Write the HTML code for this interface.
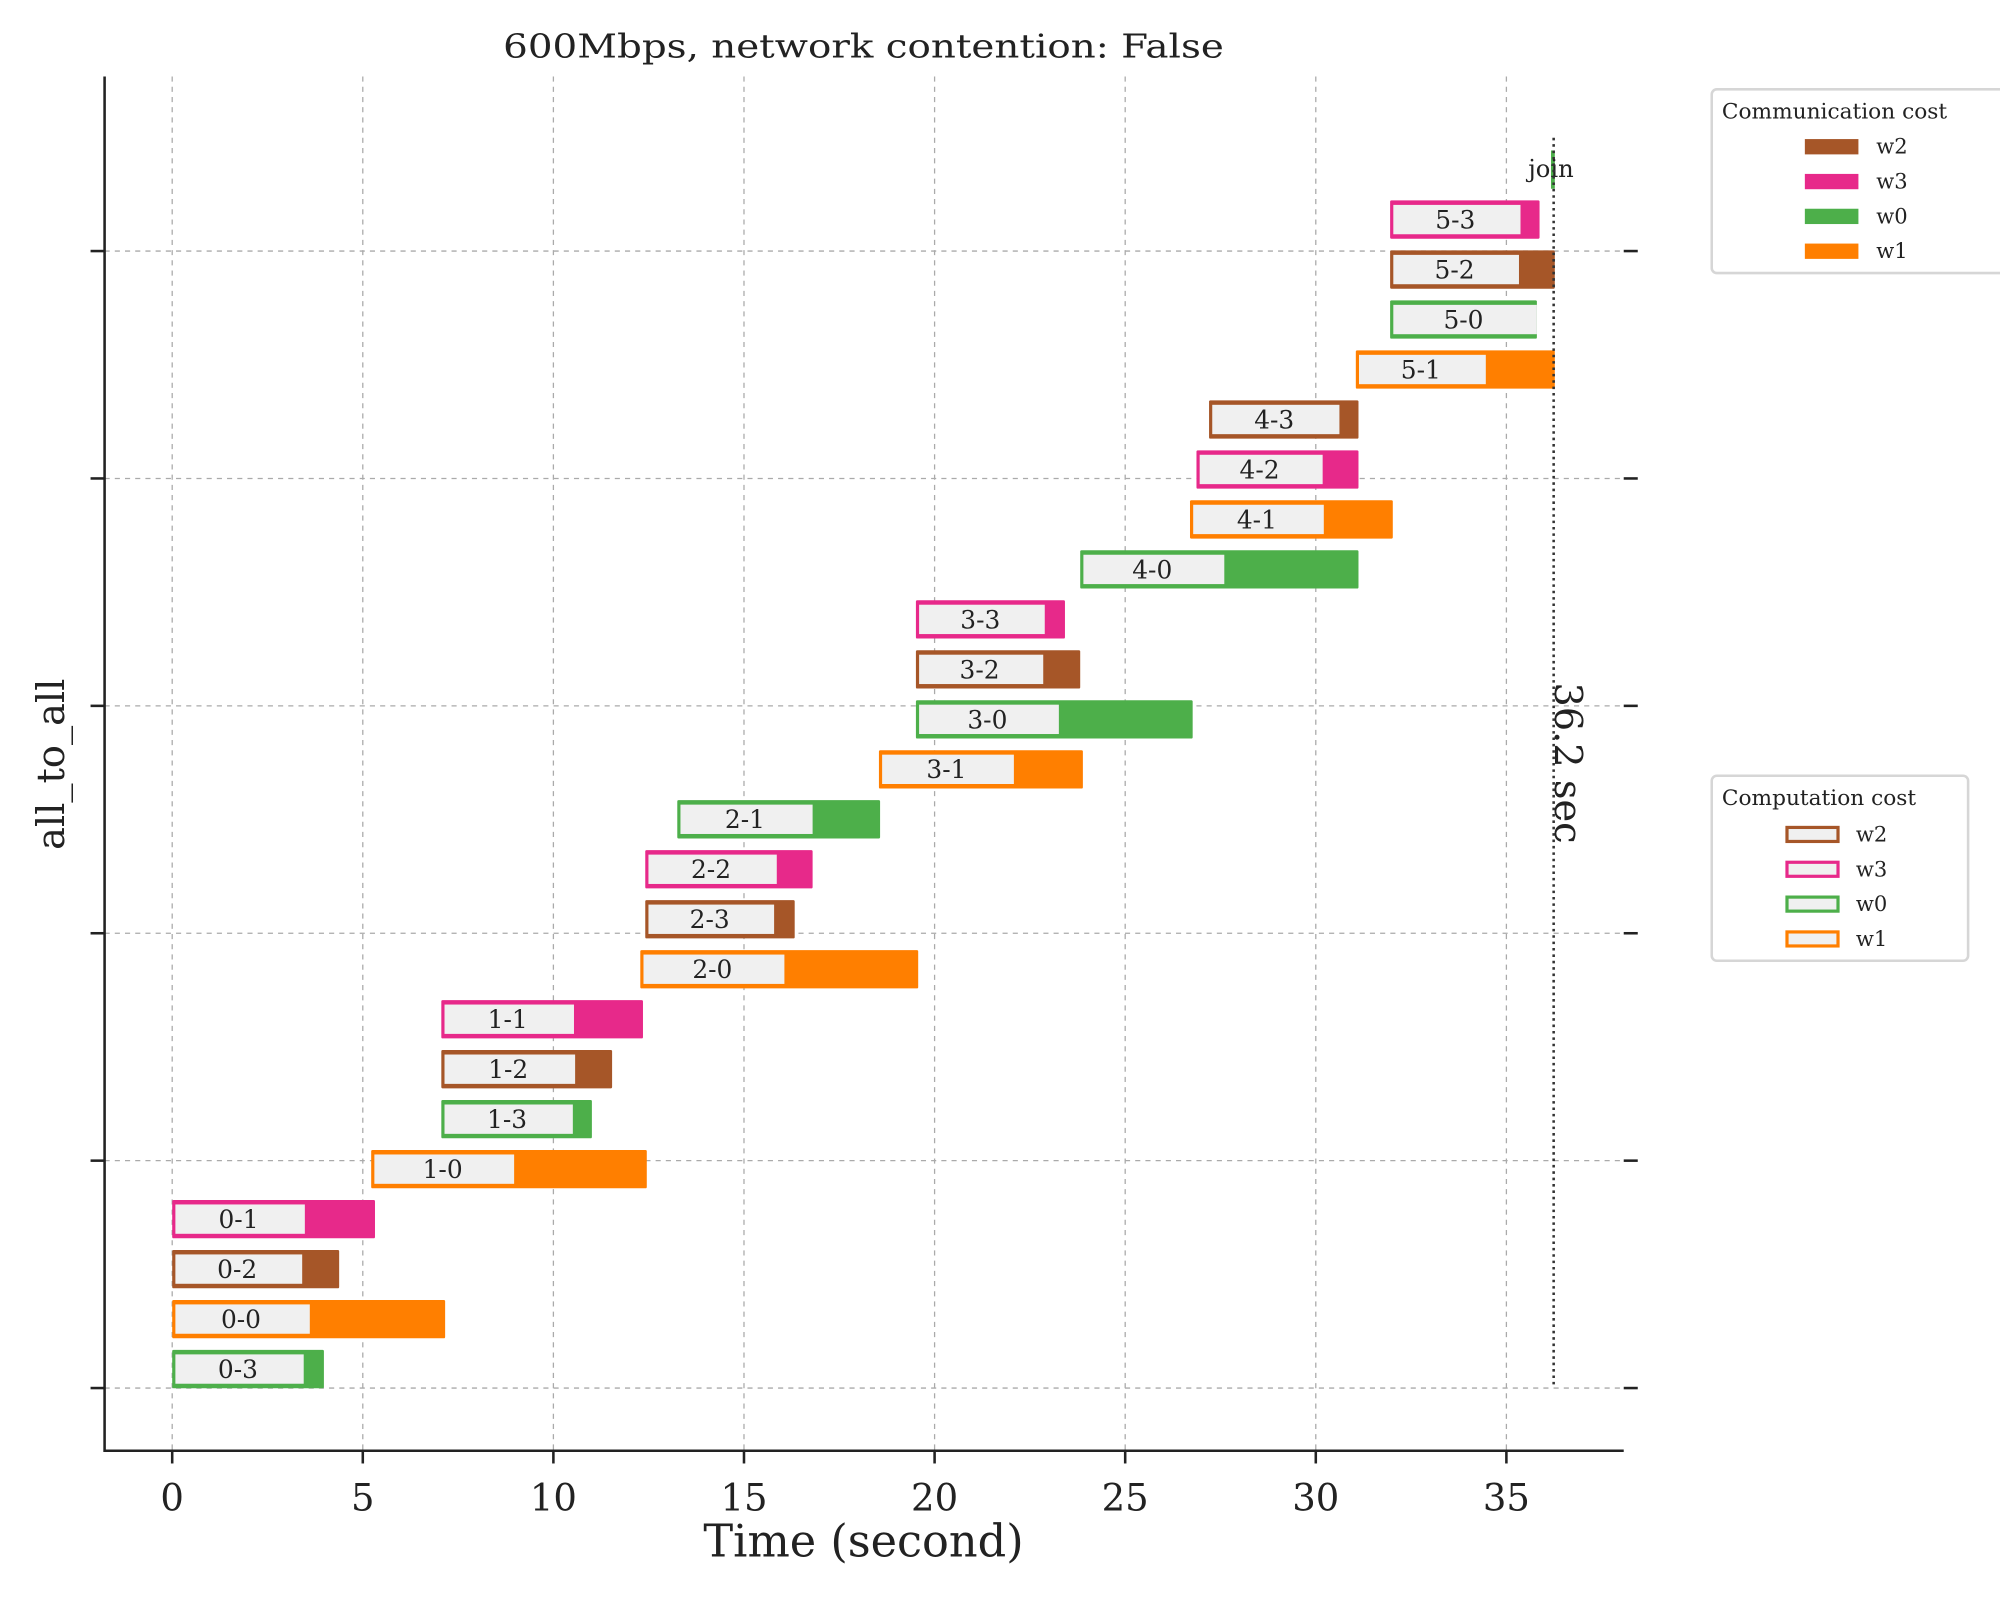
<!DOCTYPE html>
<html><head><meta charset="utf-8"><style>
html,body{margin:0;padding:0;background:#fff;}
svg{display:block;}
text{font-family:"DejaVu Serif","Liberation Serif",serif;fill:#222;}
.lg{font-family:"DejaVu Serif","Liberation Serif",serif;}
</style></head><body>
<svg id="chart" width="2000" height="1600" viewBox="0 0 1568 1254" preserveAspectRatio="none" xmlns="http://www.w3.org/2000/svg">
<g id="grid"></g>
<g id="bars"></g>
<g id="axes"></g>
<text x="677" y="45" text-anchor="middle" font-size="26" textLength="565" lengthAdjust="spacingAndGlyphs">600Mbps, network contention: False</text>
<text x="677" y="1220" text-anchor="middle" font-size="35">Time (second)</text>
<text transform="translate(50,599) rotate(-90)" text-anchor="middle" font-size="30">all_to_all</text>
<g id="legend-comm">
<rect x="1342" y="70" width="240" height="144" rx="4" fill="#fff" stroke="#d6d6d6" stroke-width="2"/>
<text class="lg" x="1350" y="93" font-size="17">Communication cost</text>
</g>
<g id="legend-comp">
<rect x="1342" y="608" width="201" height="145" rx="4" fill="#fff" stroke="#d6d6d6" stroke-width="2"/>
<text class="lg" x="1350" y="631" font-size="17">Computation cost</text>
</g>
</svg>
<script>
const names=["0-3","0-0","0-2","0-1","1-0","1-3","1-2","1-1","2-0","2-3","2-2","2-1","3-1","3-0","3-2","3-3","4-0","4-1","4-2","4-3","5-1","5-0","5-2","5-3"];
const workers=["w0","w1","w2","w3","w1","w0","w2","w3","w1","w2","w3","w0","w1","w0","w2","w3","w0","w1","w3","w2","w1","w0","w2","w3"];
const starts=[0,0,0,0,5.22,7.06,7.06,7.06,12.28,12.41,12.41,13.25,18.54,19.51,19.51,19.51,23.82,26.70,26.87,27.20,31.05,31.95,31.95,31.95];
const compEnds=[3.45,3.61,3.41,3.48,8.97,10.51,10.57,10.54,16.06,15.79,15.86,16.80,22.08,23.26,22.85,22.89,27.60,30.21,30.18,30.62,34.46,35.80,35.33,35.37];
const ends=[3.98,7.16,4.38,5.32,12.45,11.01,11.54,12.35,19.57,16.33,16.80,18.57,23.89,26.77,23.82,23.42,31.12,32.02,31.12,31.12,36.27,35.80,36.27,35.87];
const joinStart=36.17, joinEnd=36.27, totalTime=36.24;
const xTicks=[0,5,10,15,20,25,30,35];
const yTicks=[-0.38,4.17,8.72,13.27,17.82,22.37];
const legendOrder=["w2","w3","w0","w1"];
const colors={w0:"#4daf4a",w1:"#ff7f00",w2:"#a65628",w3:"#e7298a"};

const NS="http://www.w3.org/2000/svg";
const X=t=>135+t*29.886;
const Y=i=>1073-i*39.17;
function mk(tag,attrs,parent){const e=document.createElementNS(NS,tag);for(const k in attrs)e.setAttribute(k,attrs[k]);parent.appendChild(e);return e;}
const grid=document.getElementById('grid'),bars=document.getElementById('bars'),axes=document.getElementById('axes');

xTicks.forEach(t=>{
  const l=mk('line',{x1:X(t),x2:X(t),y1:60,y2:1137,stroke:'#aaa','stroke-width':1,'stroke-dasharray':'4,4'},grid);
  
  
  const tk=mk('line',{x1:X(t),x2:X(t),y1:1137,y2:1147,stroke:'#222','stroke-width':2},axes);
  
  
  const tx=mk('text',{x:X(t),y:1184,'text-anchor':'middle','font-size':29},axes);
  tx.textContent=t;
  
  
});
yTicks.forEach(v=>{
  const y=Y(v);
  const l=mk('line',{x1:82,x2:1273,y1:y,y2:y,stroke:'#aaa','stroke-width':1,'stroke-dasharray':'4,4'},grid);
  
  
  const a=mk('line',{x1:71,x2:82,y1:y,y2:y,stroke:'#222','stroke-width':2},axes);
  
  
  const b=mk('line',{x1:1273,x2:1284,y1:y,y2:y,stroke:'#222','stroke-width':2},axes);
  
  
});
const sp=mk('path',{d:'M82 60 L82 1137 L1273 1137',fill:'none',stroke:'#222','stroke-width':2},axes);



names.forEach((n,i)=>{
  const c=colors[workers[i]];const yc=Y(i);
  const g=mk('g',{},bars);
  
  
  mk('rect',{x:X(starts[i]),y:yc-15,width:X(ends[i])-X(starts[i]),height:30,fill:c,rx:1},g);
  mk('rect',{x:X(starts[i])+2.5,y:yc-11.5,width:Math.max(0,X(compEnds[i])-X(starts[i])-2.5),height:23,fill:'#f0f0f0'},g);
  const t=mk('text',{x:(X(starts[i])+X(compEnds[i]))/2,y:yc+7,'text-anchor':'middle','font-size':19.5},g);
  t.textContent=n;
});
const jb=mk('rect',{x:X(joinStart),y:Y(24)-15,width:X(joinEnd)-X(joinStart),height:30,fill:colors.w0},bars);


const jt=mk('text',{x:X(joinStart),y:Y(24)+6,'text-anchor':'middle','font-size':19},bars);
jt.textContent='join';


const dl=mk('line',{x1:X(totalTime),x2:X(totalTime),y1:108,y2:1088,stroke:'#333','stroke-width':2,'stroke-dasharray':'2,3'},bars);


const tt=mk('text',{transform:`translate(${X(totalTime)+1},598) rotate(90)`,'text-anchor':'middle','font-size':30},bars);
tt.textContent=totalTime.toFixed(1)+' sec';



const lc=document.getElementById('legend-comm'),lp=document.getElementById('legend-comp');
legendOrder.forEach((w,k)=>{
  const y1=115+k*27.3;
  const a=mk('rect',{x:1415,y:y1-6,width:42,height:12,fill:colors[w]},lc);
  
  
  const at=mk('text',{class:'lg',x:1471,y:y1+5.5,'font-size':16.5},lc);
  at.textContent=w;
  
  
  const y2=654+k*27.3;
  const b=mk('rect',{x:1401,y:y2-5.5,width:40,height:11,fill:'#f0f0f0',stroke:colors[w],'stroke-width':2.5},lp);
  
  
  const bt=mk('text',{class:'lg',x:1455,y:y2+5.5,'font-size':16.5},lp);
  bt.textContent=w;
  
  
});
</script>
</body></html>
